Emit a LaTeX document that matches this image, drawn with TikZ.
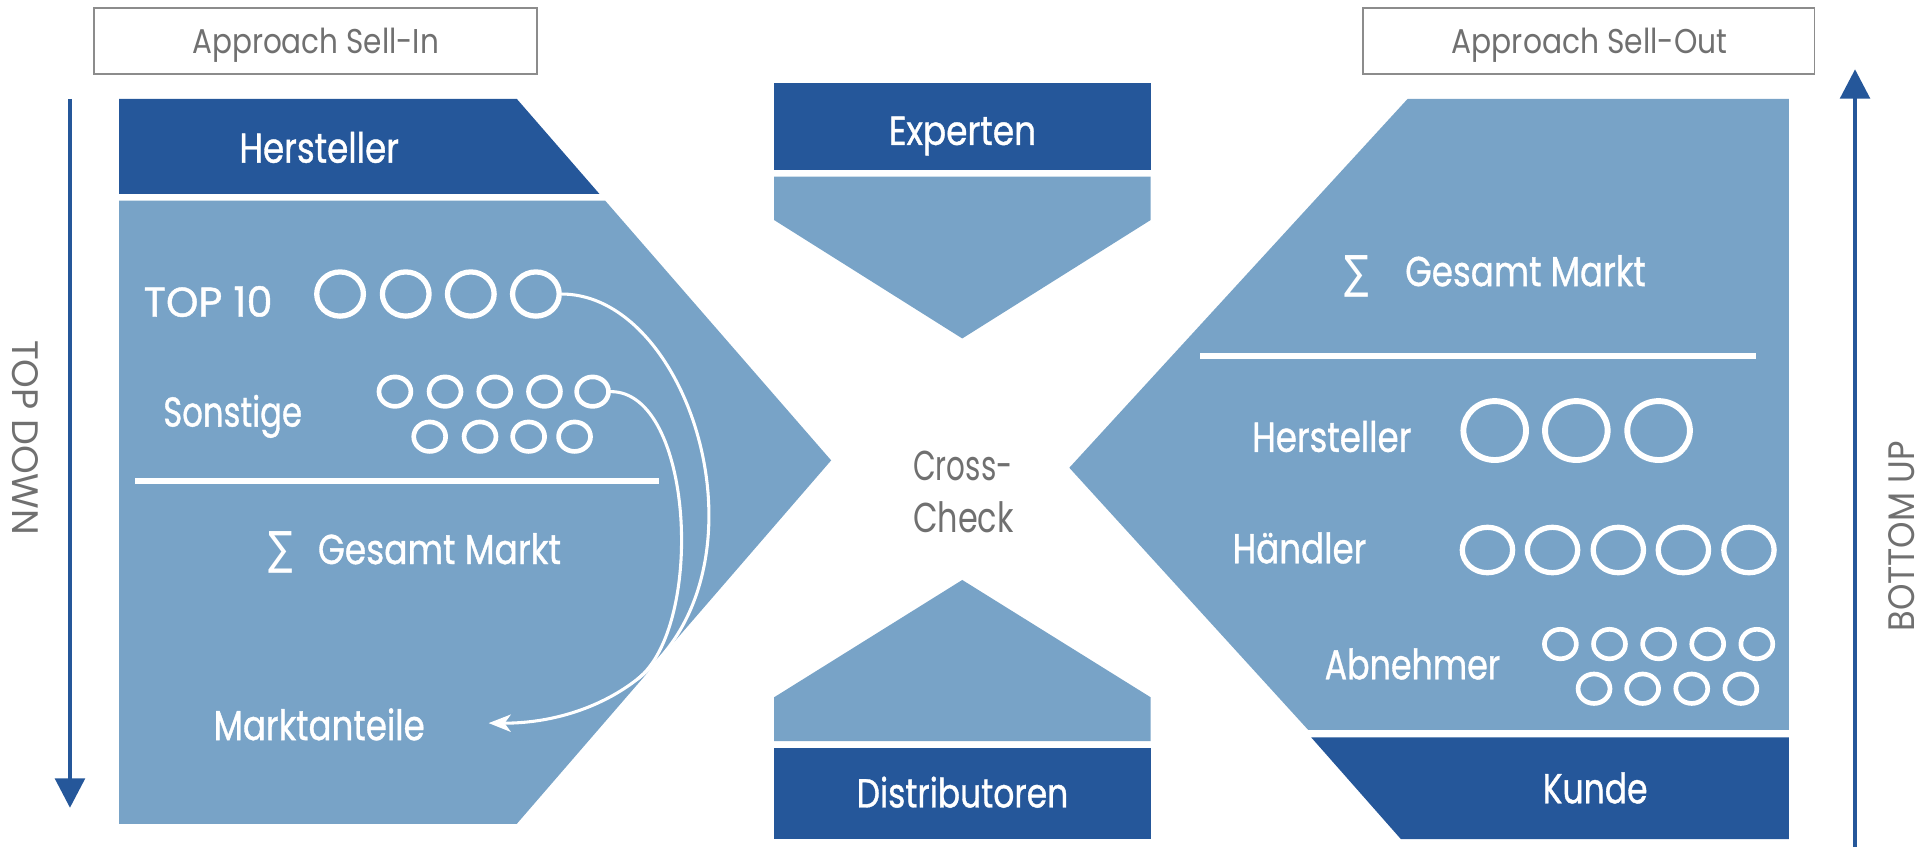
\documentclass[tikz,border=0pt]{standalone}
\usepackage{fontspec}
\usepackage{graphicx}
\setmainfont{Poppins}
\newfontfamily\labfont[FakeBold=1]{Poppins}
\newfontfamily\symfont{DejaVu Sans}
\usetikzlibrary{arrows.meta,shapes.geometric}
\definecolor{dblue}{HTML}{25579A}
\definecolor{lblue}{HTML}{78A3C7}
\definecolor{tgray}{HTML}{707070}
\definecolor{bgray}{HTML}{8C8C8C}
\newcommand{\fw}[2]{\resizebox{#1pt}{\height}{#2}}
\newcommand{\sigmasym}{\resizebox*{20pt}{34pt}{\symfont ∑}}
\tikzset{
  lbl/.style={text=white, inner sep=0pt, anchor=base, font=\labfont\fontsize{34}{40}\selectfont},
  glbl/.style={text=tgray, inner sep=0pt, anchor=base, font=\fontsize{34}{40}\selectfont},
  apbox/.style={draw=bgray, line width=1.5pt, fill=white, inner sep=0pt, minimum height=53.7pt},
  aptext/.style={text=tgray, inner sep=0pt, anchor=base, font=\fontsize{28}{32}\selectfont},
  sidetext/.style={text=tgray, inner sep=0pt, font=\fontsize{30}{34}\selectfont},
  bigring/.style={ellipse, draw=white, line width=4.8pt, inner sep=0pt, minimum width=51pt, minimum height=48pt},
  midring/.style={ellipse, draw=white, line width=4.3pt, inner sep=0pt, minimum width=38pt, minimum height=36pt},
  hring/.style={ellipse, draw=white, line width=4.3pt, inner sep=0pt, minimum width=41pt, minimum height=37pt},
  smallring/.style={ellipse, draw=white, line width=3.8pt, inner sep=0pt, minimum width=26pt, minimum height=24pt},
  sep/.style={draw=white, line width=5pt},
  conn/.style={draw=white, line width=2.5pt, line cap=round},
  bigarrow/.style={draw=dblue, line width=3.6pt, -{Triangle[length=24pt, width=24pt]}}
}
\begin{document}
\begin{tikzpicture}[x=1pt,y=-1pt]
\useasboundingbox (0,0) rectangle (1568,693);

% ---------------- header boxes
\node[apbox, minimum width=360.6pt] (boxin) at (257.1,33.65) {};
\node[aptext] (apin) at (257.1,43.4) {\fw{201}{Approach Sell-In}};
\node[apbox, minimum width=368pt] (boxout) at (1294,33.65) {};
\node[aptext] (apout) at (1294.8,43.4) {\fw{224.7}{Approach Sell-Out}};

% ---------------- left block
\fill[dblue] (97,80.6) -- (421,80.6) -- (488.3,158) -- (97,158) -- cycle;
\fill[lblue] (97,163.5) -- (493,163.5) -- (677,375) -- (421,671) -- (97,671) -- cycle;
\node[lbl] (lhst) at (260,132.5) {\fw{130}{Hersteller}};
\node[lbl] (top10) at (169.5,258) {\fw{105}{TOP 10}};
\node[midring] (t1) at (277,239.5) {};
\node[midring] (t2) at (330.5,239.5) {};
\node[midring] (t3) at (383.5,239.5) {};
\node[midring] (t4) at (436.5,239.5) {};
\node[lbl] (sonst) at (189.5,347.5) {\fw{113}{Sonstige}};
\node[smallring] (s1) at (321.7,319) {};
\node[smallring] (s2) at (362.5,319) {};
\node[smallring] (s3) at (403,319) {};
\node[smallring] (s4) at (443.5,319) {};
\node[smallring] (s5) at (482.7,319) {};
\node[smallring] (s6) at (350,355.7) {};
\node[smallring] (s7) at (391,355.7) {};
\node[smallring] (s8) at (430.6,355.7) {};
\node[smallring] (s9) at (468,355.7) {};
\coordinate (lsepa) at (110,392);
\coordinate (lsepb) at (537,392);
\draw[sep] (lsepa) -- (lsepb);
\node[text=white, inner sep=0pt] (lsig) at (229,450) {\sigmasym};
\node[lbl] (lges) at (358,459.4) {\fw{198}{Gesamt Markt}};
\node[lbl] (mant) at (260,602.8) {\fw{172}{Marktanteile}};
\coordinate (mtip) at (398,589);
\coordinate (merge) at (519.3,553.1);
\draw[conn] (s5.east) .. controls (565,319) and (574.5,509.7) .. (merge);
\draw[conn, -{Stealth[length=18pt, width=14pt, inset=5pt]}] (t4.east) .. controls (563.1,239.9) and (632.6,464) .. (merge) .. controls (491,575.4) and (451.4,589.2) .. (mtip);

% ---------------- middle
\fill[dblue] (630.5,68) rectangle (937.3,138.5);
\fill[lblue] (630.5,143.8) -- (937.3,143.8) -- (937.3,179.2) -- (783.8,275.7) -- (630.5,179.2) -- cycle;
\fill[lblue] (630.5,603.6) -- (630.5,568) -- (783.8,472.4) -- (937.3,568) -- (937.3,603.6) -- cycle;
\fill[dblue] (630.5,608.9) rectangle (937.3,683.5);
\node[lbl, font=\labfont\fontsize{33}{40}\selectfont] (exp) at (784,118) {\fw{120}{Experten}};
\node[lbl, font=\labfont\fontsize{33}{40}\selectfont] (dist) at (784,657.7) {\fw{172.4}{Distributoren}};
\node[glbl] (cross) at (784.4,391) {\fw{81}{Cross-}};
\node[glbl] (check) at (784.7,433.8) {\fw{82}{Check}};

% ---------------- right block
\fill[lblue] (1146.5,80.6) -- (1457,80.6) -- (1457,594.6) -- (1065.6,594.6) -- (871,381) -- cycle;
\fill[dblue] (1068,600.6) -- (1457,600.6) -- (1457,683.4) -- (1141,683.4) -- cycle;
\node[text=white, inner sep=0pt] (rsig) at (1105,225) {\sigmasym};
\node[lbl] (rges) at (1242.6,233) {\fw{196}{Gesamt Markt}};
\coordinate (rsepa) at (977.6,290);
\coordinate (rsepb) at (1430.5,290);
\draw[sep] (rsepa) -- (rsepb);
\node[lbl] (rhst) at (1084.8,368) {\fw{129.6}{Hersteller}};
\node[bigring] (h1) at (1217.5,350.7) {};
\node[bigring] (h2) at (1284,350.7) {};
\node[bigring] (h3) at (1351,350.7) {};
\node[lbl] (hdl) at (1058.5,458.8) {\fw{109}{Händler}};
\node[hring] (d1) at (1211.6,448) {};
\node[hring] (d2) at (1264.6,448) {};
\node[hring] (d3) at (1318.2,448) {};
\node[hring] (d4) at (1371.2,448) {};
\node[hring] (d5) at (1424.6,448) {};
\node[lbl] (abn) at (1150.5,553.3) {\fw{143}{Abnehmer}};
\node[smallring] (a1) at (1271,524.6) {};
\node[smallring] (a2) at (1311,524.6) {};
\node[smallring] (a3) at (1351,524.6) {};
\node[smallring] (a4) at (1391,524.6) {};
\node[smallring] (a5) at (1431,524.6) {};
\node[smallring] (a6) at (1298.4,561) {};
\node[smallring] (a7) at (1338,561) {};
\node[smallring] (a8) at (1378,561) {};
\node[smallring] (a9) at (1418,561) {};
\node[lbl] (kunde) at (1299.3,654.3) {\fw{85.4}{Kunde}};

% ---------------- side arrows
\coordinate (tdA) at (57,80.6);
\coordinate (tdB) at (57,658);
\draw[bigarrow] (tdA) -- (tdB);
\node[sidetext, rotate=-90] (tdtext) at (21,356.5) {\fw{159}{TOP DOWN}};
\coordinate (buA) at (1511,690);
\coordinate (buB) at (1511,56.4);
\draw[bigarrow] (buA) -- (buB);
\node[sidetext, rotate=90] (butext) at (1549,437) {\fw{155}{BOTTOM UP}};
\end{tikzpicture}
\end{document}
